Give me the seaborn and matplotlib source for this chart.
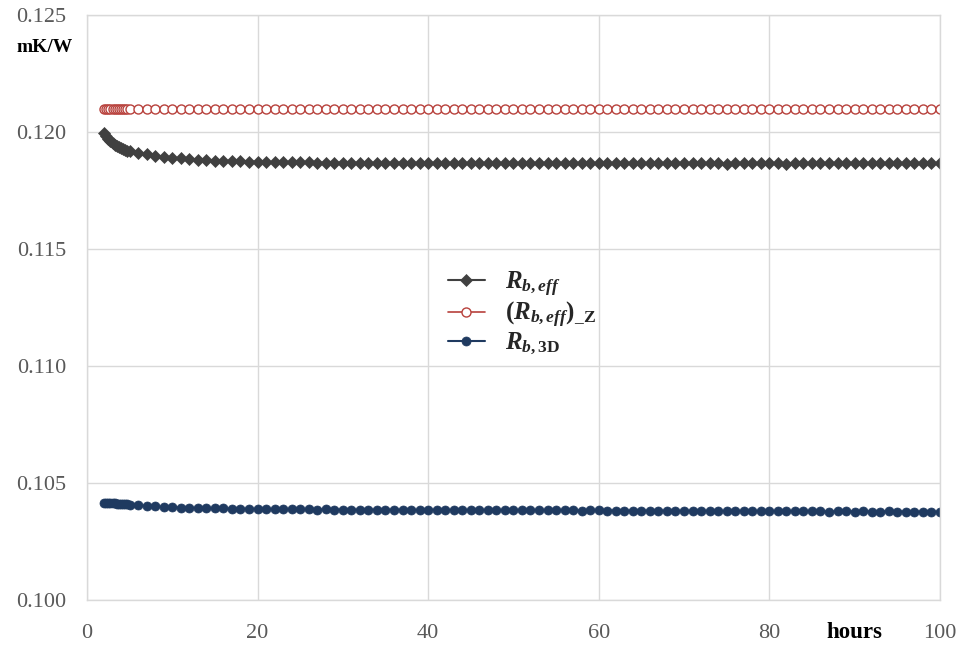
import pandas as pd
import matplotlib
matplotlib.use("Agg")
import matplotlib.pyplot as plt
import seaborn as sns

# time axis (hours): dense at the start, then hourly
hours = [2, 2.25, 2.5, 2.75, 3, 3.25, 3.5, 3.75, 4, 4.25, 4.5, 4.75] + list(range(5, 101))

# R_b,eff
r_eff = [0.11995, 0.11982, 0.11970, 0.11960, 0.11952, 0.11945, 0.11940, 0.11935, 0.11931, 0.11927, 0.11924, 0.11921,
         0.11918, 0.11910, 0.11904, 0.11899, 0.11894, 0.11890, 0.11887, 0.11884, 0.11882, 0.11880, 0.11878, 0.11877,
         0.11876, 0.11875, 0.11874, 0.11873,
         0.11872, 0.11871, 0.11871, 0.11870, 0.11870, 0.11870, 0.11869, 0.11869, 0.11869, 0.11869,
         0.11868, 0.11869, 0.11868, 0.11868, 0.11868, 0.11868, 0.11869, 0.11868, 0.11868, 0.11868,
         0.11868, 0.11867, 0.11868, 0.11868, 0.11867, 0.11868, 0.11867, 0.11867, 0.11868, 0.11867,
         0.11867, 0.11866, 0.11867, 0.11868, 0.11867, 0.11867, 0.11866, 0.11867, 0.11867, 0.11866,
         0.11867, 0.11866, 0.11866, 0.11867, 0.11866, 0.11866, 0.11867, 0.11866, 0.11866, 0.11866,
         0.11866, 0.11867, 0.11866, 0.11866, 0.11865, 0.11866, 0.11866, 0.11867, 0.11866, 0.11866,
         0.11866, 0.11865, 0.11866, 0.11866, 0.11867, 0.11866, 0.11866, 0.11866, 0.11867, 0.11868,
         0.11867, 0.11866, 0.11866, 0.11867, 0.11868, 0.11867, 0.11866, 0.11867, 0.11868, 0.11867]

# (R_b,eff)_Z is flat
r_eff_z = [0.121] * len(hours)

# R_b,3D
r_3d = [0.10415, 0.10415, 0.10414, 0.10414, 0.10413, 0.10413, 0.10412, 0.10412, 0.10411, 0.10411, 0.10410, 0.10410,
        0.10408, 0.10405, 0.10402, 0.10400, 0.10398, 0.10396, 0.10395, 0.10394, 0.10393, 0.10392, 0.10391, 0.10391,
        0.10390, 0.10390, 0.10389, 0.10389,
        0.10388, 0.10388, 0.10387, 0.10388, 0.10387, 0.10387, 0.10386, 0.10387, 0.10386, 0.10386,
        0.10386, 0.10385, 0.10386, 0.10385, 0.10385, 0.10386, 0.10385, 0.10385, 0.10384, 0.10385,
        0.10385, 0.10384, 0.10385, 0.10384, 0.10384, 0.10385, 0.10384, 0.10383, 0.10384, 0.10384,
        0.10384, 0.10383, 0.10384, 0.10383, 0.10383, 0.10384, 0.10383, 0.10382, 0.10383, 0.10383,
        0.10382, 0.10382, 0.10381, 0.10382, 0.10382, 0.10381, 0.10382, 0.10381, 0.10380, 0.10381,
        0.10381, 0.10380, 0.10381, 0.10380, 0.10380, 0.10381, 0.10380, 0.10380, 0.10379, 0.10380,
        0.10379, 0.10380, 0.10379, 0.10379, 0.10380, 0.10379, 0.10378, 0.10379, 0.10379, 0.10378,
        0.10379, 0.10378, 0.10378, 0.10379, 0.10378, 0.10378, 0.10377, 0.10378, 0.10378, 0.10377]

y_ticks = [0.100, 0.105, 0.110, 0.115, 0.120, 0.125]
x_ticks = [0, 20, 40, 60, 80, 100]

df = pd.DataFrame({"hours": hours, "r_eff": r_eff, "r_eff_z": r_eff_z, "r_3d": r_3d})

sns.set_theme(style="whitegrid")
plt.rcParams["font.family"] = "Liberation Serif"
plt.rcParams["mathtext.fontset"] = "custom"
plt.rcParams["mathtext.it"] = "Liberation Serif:italic:bold"
plt.rcParams["mathtext.rm"] = "Liberation Serif:bold"
plt.rcParams["mathtext.bf"] = "Liberation Serif:bold"

fig = plt.figure(figsize=(9.61, 6.45), dpi=100)
ax = fig.add_axes([0.0905, 0.0698, 0.8875, 0.9069])

sns.lineplot(data=df, x="hours", y="r_eff", ax=ax, color="#404040", lw=1.5,
             marker="D", markersize=6, markeredgecolor="#404040", markeredgewidth=0.5,
             label=r"$R_{b,eff}$")
sns.lineplot(data=df, x="hours", y="r_eff_z", ax=ax, color="#B8413C", lw=1.2,
             marker="o", markersize=6.5, markerfacecolor="white", markeredgecolor="#B8413C",
             markeredgewidth=1.0, label=r"$\mathrm{(}R_{b,eff}\mathrm{)}_{\mathrm{\_Z}}$")
sns.lineplot(data=df, x="hours", y="r_3d", ax=ax, color="#1F3A60", lw=1.5,
             marker="o", markersize=6.5, markeredgecolor="#1F3A60", markeredgewidth=0.5,
             label=r"$R_{b,\mathrm{3D}}$")

ax.set_xlim(0, 100)
ax.set_ylim(0.100, 0.125)
ax.set_xticks(x_ticks)
ax.set_yticks(y_ticks)
ax.set_yticklabels([f"{v:.3f}" for v in y_ticks])
ax.tick_params(axis="y", labelsize=16, labelcolor="#595959", pad=15, length=0)
ax.tick_params(axis="x", labelsize=16, labelcolor="#595959", pad=17, length=0)
ax.set_xlabel("")
ax.set_ylabel("")
ax.grid(color="#D9D9D9", linewidth=1)
for s in ax.spines.values():
    s.set_color("#D9D9D9")
    s.set_linewidth(1)

ax.text(0.9, -0.056, "hours", transform=ax.transAxes, ha="center", va="center",
        fontsize=16.5, fontweight="bold", color="black")
fig.text(45 / 961, 1 - 47 / 645, "mK/W", ha="center", va="center",
         fontsize=14, fontweight="bold", color="black")

ax.legend(loc="center", bbox_to_anchor=(0.51, 0.49), frameon=False, fontsize=18,
          handlelength=1.5, labelspacing=0.05, handletextpad=0.8)

fig.savefig("out.png", dpi=100)
